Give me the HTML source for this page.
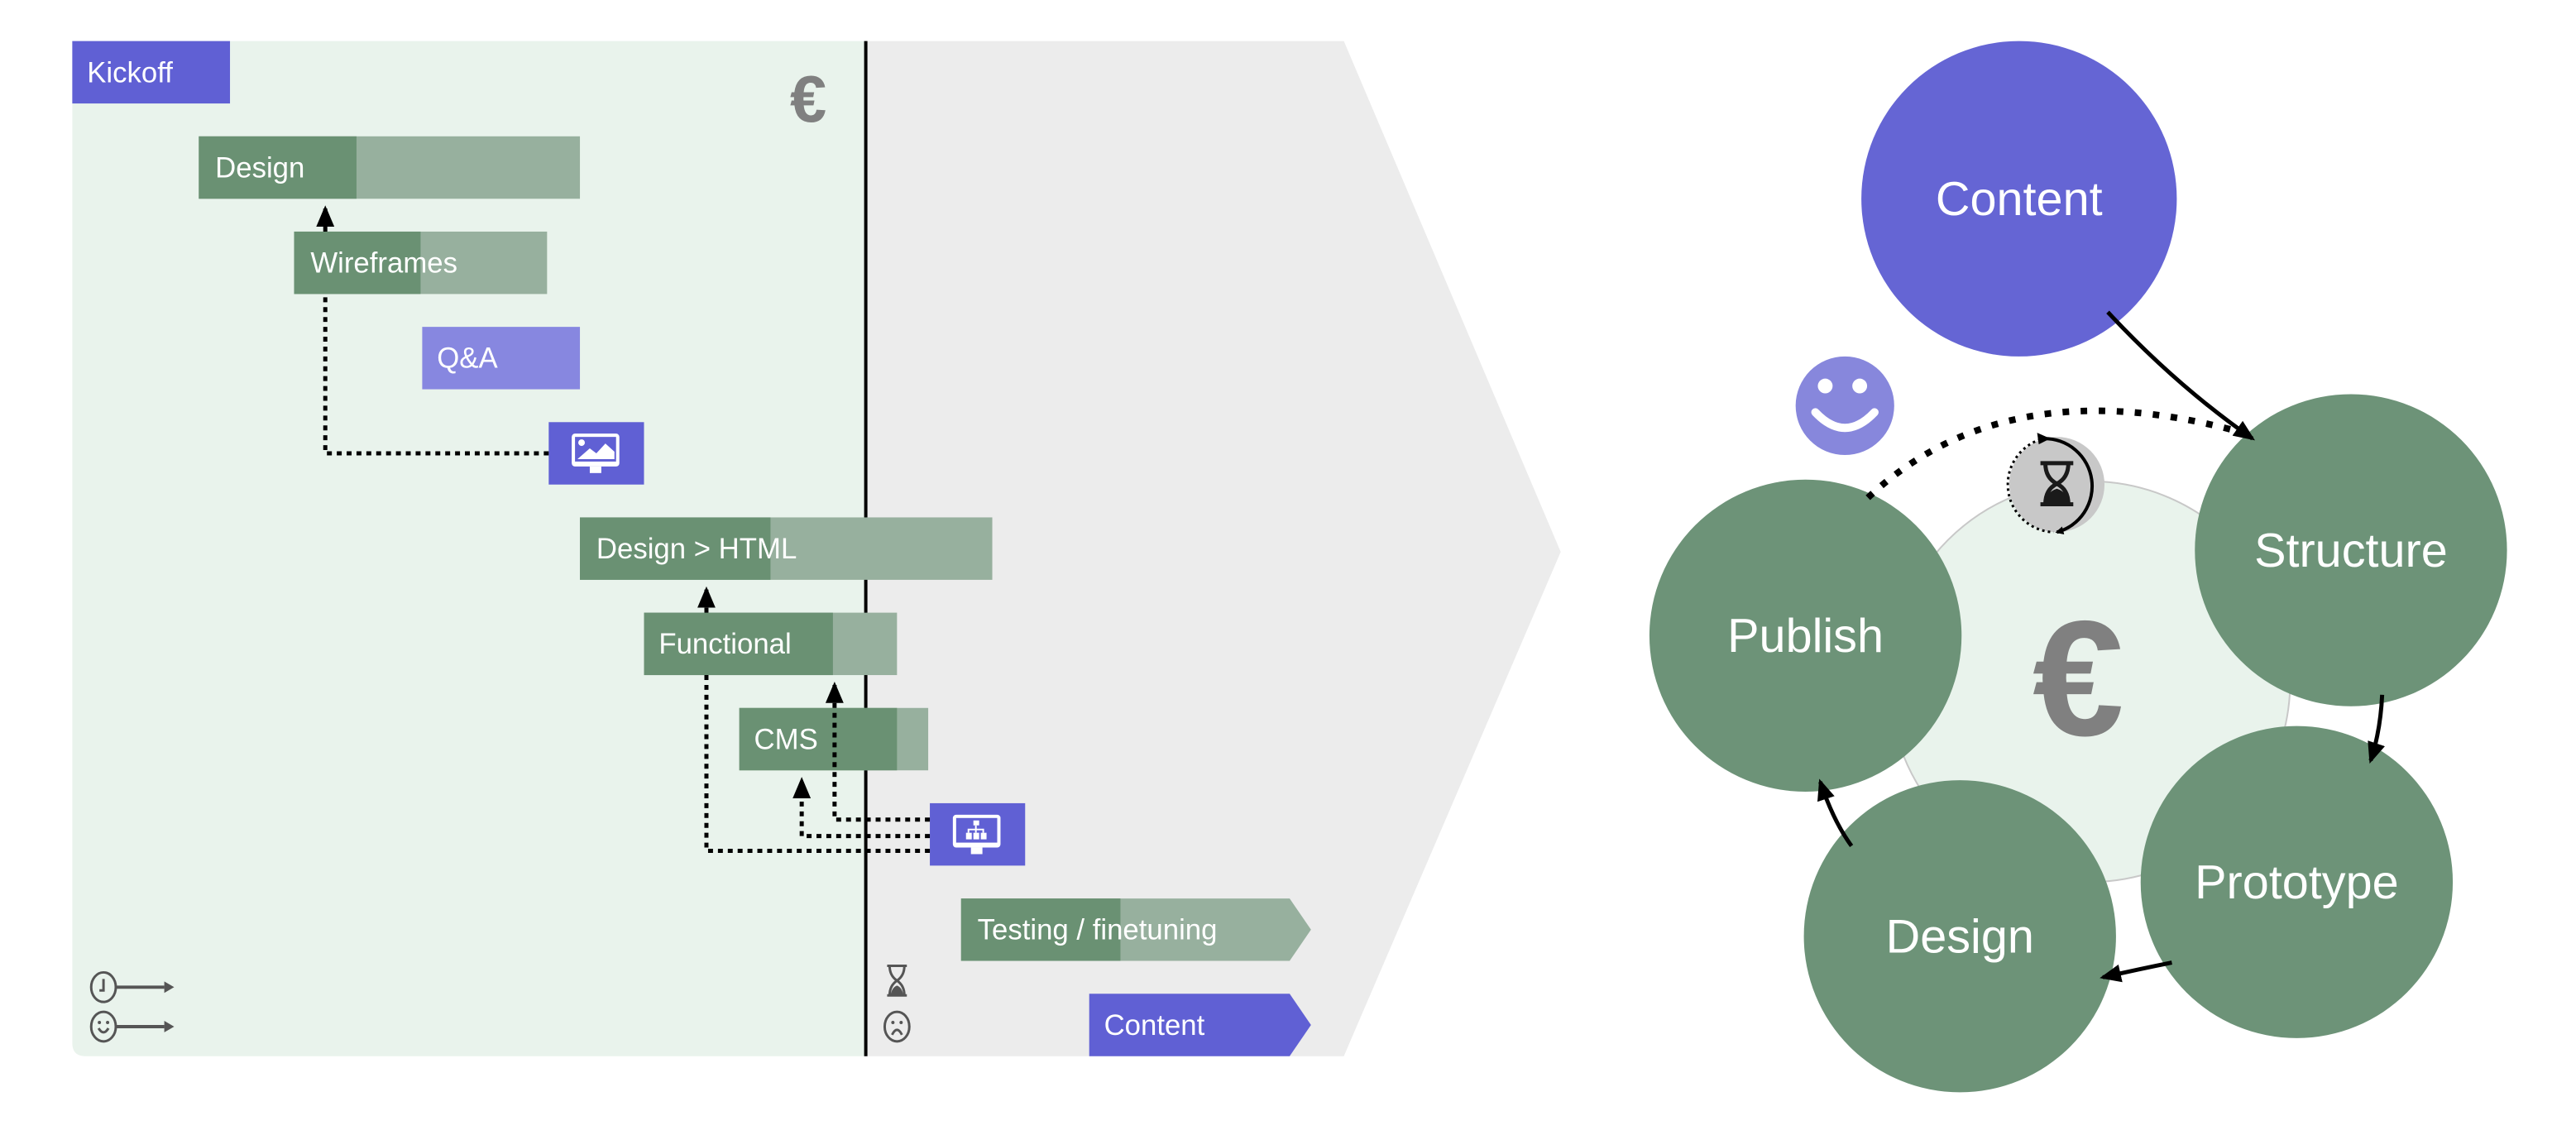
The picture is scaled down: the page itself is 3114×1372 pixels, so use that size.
<!DOCTYPE html>
<html><head><meta charset="utf-8"><style>
html,body{margin:0;padding:0;background:#fff;}
svg{display:block;}
text{font-family:"Liberation Sans",sans-serif;}
</style></head><body>
<svg width="3114" height="1372" viewBox="0 0 3136 1382" preserveAspectRatio="none" xmlns="http://www.w3.org/2000/svg">
<defs>
<marker id="ah" markerWidth="10" markerHeight="10" refX="8" refY="5" orient="auto" markerUnits="userSpaceOnUse" viewBox="0 0 10 10">
<path d="M0,0 L10,5 L0,10 z" fill="#000"/></marker>
<marker id="ah2" markerWidth="26" markerHeight="26" refX="22" refY="13" orient="auto" markerUnits="userSpaceOnUse" viewBox="0 0 26 26">
<path d="M0,2 L26,13 L0,24 z" fill="#000"/></marker>
</defs>
<path d="M1054,50 L1636,50 L1900,672 L1636,1286 L1054,1286 Z" fill="#ececec"/>
<path d="M88,50 L1054,50 L1054,1286 L104,1286 Q88,1286 88,1270 Z" fill="#e9f3ec"/>
<line x1="1054" y1="50" x2="1054" y2="1286" stroke="#000" stroke-width="4"/>
<text x="984" y="148" font-size="80" font-weight="bold" fill="#808080" text-anchor="middle">€</text>

<g font-size="35" fill="#fff">
<rect x="88" y="50" width="192" height="76" fill="#6060d4"/><text x="106" y="100">Kickoff</text>
<rect x="242" y="166" width="464" height="76" fill="#97b09e"/><rect x="242" y="166" width="192" height="76" fill="#6a9173"/><text x="262" y="216">Design</text>
<rect x="358" y="282" width="308" height="76" fill="#97b09e"/><rect x="358" y="282" width="154" height="76" fill="#6a9173"/><text x="378" y="332">Wireframes</text>
<rect x="514" y="398" width="192" height="76" fill="#8787e0"/><text x="532" y="448">Q&amp;A</text>
<rect x="706" y="630" width="502" height="76" fill="#97b09e"/><rect x="706" y="630" width="232" height="76" fill="#6a9173"/><text x="726" y="680">Design &gt; HTML</text>
<rect x="784" y="746" width="308" height="76" fill="#97b09e"/><rect x="784" y="746" width="230" height="76" fill="#6a9173"/><text x="802" y="796">Functional</text>
<rect x="900" y="862" width="230" height="76" fill="#97b09e"/><rect x="900" y="862" width="192" height="76" fill="#6a9173"/><text x="918" y="912">CMS</text>
<path d="M1170,1094 L1570,1094 L1596,1132 L1570,1170 L1170,1170 Z" fill="#97b09e"/><rect x="1170" y="1094" width="194" height="76" fill="#6a9173"/><text x="1190" y="1144">Testing / finetuning</text>
<path d="M1326,1210 L1570,1210 L1596,1248 L1570,1286 L1326,1286 Z" fill="#6060d4"/><text x="1344" y="1260">Content</text>
</g>
<rect x="668" y="514" width="116" height="76" fill="#6060d4"/>
<rect x="696" y="528" width="58" height="40" rx="4" fill="#fff"/><rect x="700" y="532" width="50" height="30" fill="#6060d4"/>
<circle cx="708" cy="539" r="4" fill="#fff"/><path d="M703,559 L718,546 L726,552 L737,540 L748,550 L748,559 Z" fill="#fff"/><rect x="718" y="568" width="14" height="8" fill="#fff"/>
<rect x="1132" y="978" width="116" height="76" fill="#6060d4"/>
<rect x="1160" y="992" width="58" height="40" rx="4" fill="#fff"/><rect x="1164" y="996" width="50" height="30" fill="#6060d4"/>
<g fill="#fff"><rect x="1185" y="999" width="7" height="6"/><rect x="1176" y="1014" width="7" height="8"/><rect x="1185" y="1014" width="7" height="8"/><rect x="1194" y="1014" width="7" height="8"/></g>
<path d="M1188,1005 V1014 M1179,1014 V1010 H1197 V1014" stroke="#fff" stroke-width="2" fill="none"/><rect x="1182" y="1032" width="14" height="8" fill="#fff"/>
<g stroke="#000" stroke-width="5" stroke-dasharray="6 6" fill="none">
<path d="M396,282 V254" marker-end="url(#ah2)"/>
<path d="M668,552 H396 V358"/>
<path d="M860,746 V718" marker-end="url(#ah2)"/>
<path d="M1132,998 H1016 V834" marker-end="url(#ah2)"/>
<path d="M1132,1018 H976 V950" marker-end="url(#ah2)"/>
<path d="M1132,1036 H860 V822"/>
</g>
<g stroke="#555" stroke-width="3" fill="none">
<ellipse cx="126" cy="1202" rx="15" ry="18"/><path d="M126,1192 V1206 H121"/>
<line x1="141" y1="1202" x2="200" y2="1202" stroke-width="4"/>
<ellipse cx="126" cy="1250" rx="15" ry="18"/><path d="M120,1252 Q126,1262 132,1252"/>
<line x1="141" y1="1250" x2="200" y2="1250" stroke-width="4"/>
<ellipse cx="1092" cy="1250" rx="15" ry="18"/><path d="M1086,1260 Q1092,1248 1098,1260"/>
<path d="M1080,1176 H1104 M1080,1212 H1104 M1083,1176 Q1083,1188 1092,1194 Q1101,1188 1101,1176 M1083,1212 Q1083,1200 1092,1194 Q1101,1200 1101,1212"/>
</g>
<g fill="#555"><path d="M200,1195 L212,1202 L200,1209 Z"/><path d="M200,1243 L212,1250 L200,1257 Z"/>
<circle cx="121" cy="1245" r="2"/><circle cx="131" cy="1245" r="2"/><circle cx="1087" cy="1245" r="2"/><circle cx="1097" cy="1245" r="2"/>
<path d="M1084,1212 Q1086,1202 1092,1200 Q1098,1202 1100,1212 Z"/></g>

<circle cx="2544" cy="830" r="244" fill="#e9f3ec" stroke="#c8c8c8" stroke-width="2"/>
<circle cx="2458" cy="242" r="192" fill="#6565d4"/>
<circle cx="2862" cy="670" r="190" fill="#6d9378"/>
<circle cx="2796" cy="1074" r="190" fill="#6d9378"/>
<circle cx="2386" cy="1140" r="190" fill="#6d9378"/>
<circle cx="2198" cy="774" r="190" fill="#6d9378"/>
<text x="2530" y="895" font-size="200" font-weight="bold" fill="#808080" text-anchor="middle">€</text>
<g font-size="58" fill="#fff" text-anchor="middle">
<text x="2458" y="262">Content</text>
<text x="2862" y="690">Structure</text>
<text x="2796" y="1094">Prototype</text>
<text x="2386" y="1160">Design</text>
<text x="2198" y="794">Publish</text>
</g>
<circle cx="2246" cy="494" r="60" fill="#8787dc"/>
<circle cx="2222" cy="470" r="9" fill="#fff"/><circle cx="2264" cy="470" r="9" fill="#fff"/>
<path d="M2210,502 Q2246,540 2282,502" stroke="#fff" stroke-width="10" fill="none" stroke-linecap="round"/>
<circle cx="2504" cy="590" r="58" fill="#c8c8c8"/>
<path d="M2484,564 H2524 M2484,614 H2524 M2490,564 Q2490,582 2504,589 Q2518,582 2518,564 M2490,614 Q2490,596 2504,589 Q2518,596 2518,614" stroke="#1a1a1a" stroke-width="5" fill="none"/>
<path d="M2489,614 Q2491,599 2504,595 Q2517,599 2519,614 Z" fill="#1a1a1a"/>
<path d="M2484,535 A58,58 0 0 0 2500,648" stroke="#000" stroke-width="3" stroke-dasharray="3 4" fill="none"/>
<path d="M2488,534 A58,58 0 0 1 2504,648" stroke="#000" stroke-width="4" fill="none" marker-end="url(#ah)"/>
<path d="M2480,527 L2496,534 L2482,541 Z" fill="#000"/>
<g stroke="#000" stroke-width="5" fill="none">
<path d="M2566,380 Q2650,470 2742,534" marker-end="url(#ah2)"/>
<path d="M2900,846 Q2898,890 2886,926" marker-end="url(#ah2)"/>
<path d="M2644,1172 Q2604,1180 2560,1190" marker-end="url(#ah2)"/>
<path d="M2254,1030 Q2232,1000 2216,952" marker-end="url(#ah2)"/>
<path d="M2274,606 Q2440,450 2720,524" stroke-width="8" stroke-dasharray="8 14"/>
</g>
</svg>
</body></html>
